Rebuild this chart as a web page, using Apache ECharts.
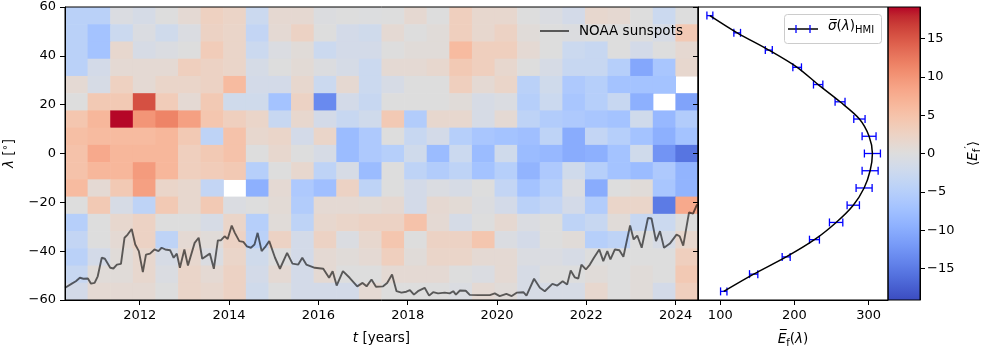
<!DOCTYPE html>
<html>
<head>
<meta charset="utf-8">
<script src="https://cdn.jsdelivr.net/npm/echarts@6/dist/echarts.min.js"></script>
<style>html,body{margin:0;padding:0;background:#fff}#c{width:1000px;height:350px}</style>
</head>
<body>
<div id="c"></div>
<script>
// ---------------- data ----------------
const timeStart = 2010.327;
const timeBinWidth = 0.5062;
const timeBinCount = 28;
const latMin = -60, latMax = 60, latBinCount = 17;

// fluctuation <E'_f>, rows from north (top) to south (bottom), 28 time bins each; null = no data
const fluctRows = [
 [-4.5,-4.5,-0.5,-1.2,0,1,2.8,2.2,-2.5,1.2,1.2,-0.3,0,-0.2, 0,1.2,0,3,1.5,1.5,0,-0.5,-1.5,1.5,1.2,0,-2.5,0],
 [-4.5,-7,-2.5,-0.5,-2,-0.5,2.5,2,-3.5,1,2.5,0,-1.5,-2, 1,0,0.5,3,1.5,2.5,0.5,0,-0.3,0,0,0,-1,4],
 [-4.5,-7,1.5,-1,-0.5,0,3.5,2,-2.5,-0.5,0.5,-2.5,-1.5,-1.5, 0,0.5,0.5,6,3,3,1,0,-2.5,-3,0,-1.5,0,1.2],
 [-4.5,-1.5,1,1,1,3,2.5,2,-1.2,0,0.8,-0.3,-1.2,-2.5, 1,1,1.5,4,3,1.5,0,-1,-3,-3,-5,-10.5,-6.5,1.5],
 [1,-1,2.8,1,2,2,2.5,6,-1.5,-1.5,1.5,-2.5,1.2,-2.5, -1,0,0,3,1,2,-4.5,-2,-6,-5,-7,-7,-7,null],
 [0,4,4,15.5,3.5,1,4,-2,-2,-7,2.5,-13.5,-1.5,-3, 0,0,0,0.5,-1,-0.5,-5,-2.5,-6.5,-5,-3,-9.5,null,-11],
 [4.5,6.5,19,10,11.5,9,4.5,3,2,-3,1.5,-1.5,-3,-2, 4,-5.5,1.5,1.5,-1,1,-4,-5.5,-6,-6.5,-7,-2,-8.5,-5.5],
 [5.5,6,6,6,6.5,4,-4,5,1.5,2,-1.5,2,-8,-6, 0,-3,-1.5,-5,-6.5,-7,-7.5,-4,-10,-3.5,-5,-7,-9.5,-7],
 [5,8,6.5,6.5,6.5,3,4,5,0,1.5,0,-1,-8,-6, -5,-2,-8,-2.5,-8,-2,-8,-8.5,-10,-9.5,-7,-2,-12.5,-15.5],
 [5,6.5,6.5,9.5,6.5,3,3.5,4,-5,0,1.5,-4,-1,-8, 0,-4,-5.5,-4,-7,-5,-9,-6,-2,-5,-7,-8,-6,-9],
 [6,1,4,9,2,1.5,-3.5,null,-9.5,1,-6,-7.5,2.5,-4, 0,-1.5,-0.5,-1,0,-3.5,-7,-5,-0.5,-10,0,0.5,-6.5,-9],
 [0,4,-1,-4,4,1.5,4,-0.5,0,0.8,-5.5,1,1,0.8, 1.2,-1.5,1.2,0.8,-0.3,-1.5,-4.5,-3.5,-1.5,-5.5,2,2,-15,8],
 [-5,0,1.5,2.5,0,0,-1,2,-5,0.5,-4,1.5,2,2.5, 2.5,5,1,-1.2,0,1.2,-0.5,0,-4,-3,0.5,-3,-2.5,0],
 [-3.5,0,1,2.5,-4,1,0.5,2.5,-4.5,2.5,-1.5,2.5,-0.5,1.5, 4.5,0,2.5,2.5,4.5,-0.5,-1.5,0,0.5,-5,-4,0,-1,1.5],
 [-4.5,-1.5,0.5,1.5,-1,1.5,-0.5,2,-2,0,-1.5,1,0.5,1, 3,0.5,2,2,1,1,-0.5,-0.5,-1,0,0,0,0,3],
 [-3,0.5,0.5,1.5,-0.5,2,1,2.5,-1.5,1,-1.5,1,0,0, 1,1,1,0,-0.5,1,-1,0,0,0.5,0,0.5,0,4],
 [-1.5,1,1,1,0,2,1.5,2.5,-2,0,-1.5,-1.5,-1.5,1, 0,0,0,-0.5,1,0.5,-1,-1,-1,1.5,0,0.5,-1.5,3]
];

// NOAA sunspot curve, drawn in latitude units: [year, plotted value]
const sunspotCurve = [
 [2010.33,-55.0],[2010.48,-53.3],[2010.57,-52.3],[2010.66,-50.9],[2010.74,-51.3],[2010.84,-51.2],[2010.91,-53.3],[2010.99,-53.0],
 [2011.06,-50.3],[2011.15,-42.7],[2011.22,-43.1],[2011.34,-46.8],[2011.41,-47.1],[2011.49,-45.5],[2011.58,-45.2],[2011.66,-34.5],
 [2011.73,-33.2],[2011.82,-30.9],[2011.90,-37.3],[2011.98,-40.0],[2012.07,-48.6],[2012.14,-41.4],[2012.23,-41.0],[2012.33,-39.3],
 [2012.42,-40.0],[2012.49,-38.6],[2012.57,-39.3],[2012.68,-39.6],[2012.76,-42.7],[2012.83,-41.0],[2012.90,-46.8],[2013.00,-39.3],
 [2013.08,-45.9],[2013.23,-36.6],[2013.32,-34.5],[2013.40,-43.1],[2013.57,-41.0],[2013.66,-47.2],[2013.75,-35.6],[2013.82,-35.5],
 [2013.90,-33.9],[2013.97,-35.0],[2014.06,-29.5],[2014.13,-32.5],[2014.23,-35.9],[2014.32,-36.2],[2014.40,-38.0],[2014.49,-38.6],
 [2014.57,-37.3],[2014.64,-32.5],[2014.73,-40.0],[2014.82,-38.0],[2014.90,-35.9],[2015.03,-42.7],[2015.14,-47.2],[2015.30,-40.7],
 [2015.42,-45.1],[2015.55,-45.5],[2015.64,-42.7],[2015.73,-45.5],[2015.92,-46.8],[2016.11,-47.2],[2016.24,-50.9],[2016.32,-48.2],
 [2016.41,-54.1],[2016.55,-48.2],[2016.70,-50.9],[2016.87,-54.4],[2016.99,-53.0],[2017.08,-54.4],[2017.19,-51.6],[2017.29,-54.6],
 [2017.45,-54.4],[2017.54,-53.0],[2017.65,-49.6],[2017.75,-56.4],[2017.86,-57.0],[2017.97,-56.6],[2018.05,-56.0],[2018.14,-57.8],
 [2018.23,-56.4],[2018.38,-55.0],[2018.48,-58.2],[2018.57,-56.8],[2018.68,-57.3],[2018.83,-57.0],[2018.94,-57.3],[2019.02,-56.4],
 [2019.08,-57.8],[2019.17,-56.1],[2019.30,-56.2],[2019.39,-57.9],[2019.58,-58.0],[2019.84,-58.0],[2019.95,-57.3],[2020.06,-58.4],
 [2020.21,-57.5],[2020.33,-58.4],[2020.44,-57.0],[2020.59,-56.8],[2020.66,-58.2],[2020.83,-51.3],[2020.96,-55.0],[2021.07,-56.4],
 [2021.24,-53.4],[2021.35,-54.1],[2021.47,-52.3],[2021.57,-53.7],[2021.65,-47.9],[2021.74,-50.7],[2021.82,-51.2],[2021.89,-45.5],
 [2021.99,-47.5],[2022.08,-45.5],[2022.17,-42.7],[2022.29,-39.3],[2022.38,-44.1],[2022.47,-40.0],[2022.54,-43.4],[2022.64,-39.3],
 [2022.74,-39.6],[2022.83,-42.3],[2022.98,-29.5],[2023.06,-35.2],[2023.14,-33.6],[2023.24,-38.6],[2023.38,-26.4],[2023.46,-26.6],
 [2023.56,-35.9],[2023.65,-31.8],[2023.74,-38.6],[2023.87,-36.9],[2024.02,-33.2],[2024.09,-33.9],[2024.17,-37.7],[2024.30,-24.1],
 [2024.39,-24.6],[2024.48,-20.8]
];

// latitude profile (one value per latitude bin, north to south)
const profileMean = [86,122.8,165.4,203.6,231.9,261.4,287.5,300.5,305,301.9,293.8,279.2,256.1,226.9,188.8,145,104.7];
const profileErr  = [4,4.5,4.7,5.8,6.3,6.7,7.6,9.4,10.8,10.8,10.8,8.3,9,6.7,5.4,5.6,4.3];

const yearTicks = [2012,2014,2016,2018,2020,2022,2024];
const latTicks = [-60,-40,-20,0,20,40,60];
const profileTicks = [100,200,300];
const cbarTicks = [-15,-10,-5,0,5,10,15];
const cbarLimit = 19.1;
const profileMin = 70, profileMax = 326;

// ---------------- styling helpers ----------------
const FONT = 'DejaVu Sans';
const COOLWARM = [[59,76,192],[68,90,204],[77,104,215],[87,117,225],[98,130,234],[108,142,241],[119,154,247],[130,165,251],
 [141,176,254],[152,185,255],[163,194,255],[174,201,253],[184,208,249],[194,213,244],[204,217,238],[213,219,230],[221,221,221],
 [229,216,209],[236,211,197],[241,204,184],[245,196,172],[247,187,160],[247,177,148],[247,166,137],[244,154,124],[241,141,111],
 [236,127,99],[229,112,89],[222,96,77],[213,80,66],[203,62,56],[192,40,47],[180,4,38]];
function cmap(v){
  let t = (v + cbarLimit) / (2*cbarLimit);
  t = Math.max(0, Math.min(1, t));
  const f = t*32, i = Math.min(31, Math.floor(f)), r = f - i;
  const a = COOLWARM[i], b = COOLWARM[i+1];
  return 'rgb(' + [0,1,2].map(k => Math.round(a[k] + (b[k]-a[k])*r)).join(',') + ')';
}
const minus = v => (v < 0 ? '\u2212' + (-v) : String(v));

const timeEnd = timeStart + timeBinCount*timeBinWidth;
const latStep = (latMax - latMin)/latBinCount;
const cells = [];
fluctRows.forEach((row, r) => {
  const yHi = latMax - r*latStep, yLo = yHi - latStep;
  row.forEach((v, c) => {
    if (v === null) return;
    const x0 = timeStart + c*timeBinWidth;
    cells.push([x0, x0 + timeBinWidth, yLo, yHi, v]);
  });
});
const latCenters = profileMean.map((_, r) => latMax - (r + 0.5)*latStep);
const profileLine = profileMean.map((m, r) => [m, latCenters[r]]);
const profileBars = profileMean.map((m, r) => [latCenters[r], m, profileErr[r]]);

const gradStops = COOLWARM.map((c, i) => ({offset: 1 - i/32, color: 'rgb(' + c.join(',') + ')'})).reverse();

const lbl = {color:'#000', fontSize:13, fontFamily:FONT};
const tick = {show:true, length:5, lineStyle:{color:'#000', width:1}};
const aline = {show:true, onZero:false, lineStyle:{color:'#000', width:1}};
const nameStyle = {color:'#000', fontSize:13.5, fontFamily:FONT,
  rich:{
    i:{fontStyle:'italic', fontSize:13.5, fontFamily:FONT, color:'#000'},
    n:{fontSize:13.5, fontFamily:FONT, color:'#000'},
    s:{fontSize:10, fontFamily:FONT, color:'#000', padding:[8,0,0,0]},
    p:{fontSize:10, fontFamily:FONT, color:'#000', padding:[0,0,8,0]}
  }};
const gridBase = {top:7, height:293, show:true, borderColor:'#000', borderWidth:1, backgroundColor:'transparent', z:10,
  containLabel:false, outerBoundsMode:'none'};

const chart = echarts.init(document.getElementById('c'), null, {renderer:'canvas', width:1000, height:350});
const option = {
  animation:false,
  backgroundColor:'#fff',
  grid:[
    Object.assign({left:65, width:633}, gridBase),
    Object.assign({left:698, width:190}, gridBase),
    Object.assign({left:888, width:32}, gridBase)
  ],
  xAxis:[
    {gridIndex:0, type:'value', min:timeStart, max:timeEnd, z:10, axisLine:aline,
     axisTick:Object.assign({customValues:yearTicks}, tick),
     axisLabel:Object.assign({customValues:yearTicks, margin:9, formatter:v=>String(v)}, lbl),
     splitLine:{show:false},
     name:'{i|t} [years]', nameLocation:'middle', nameGap:31, nameTextStyle:nameStyle},
    {gridIndex:1, type:'value', min:profileMin, max:profileMax, z:10, axisLine:aline,
     axisTick:Object.assign({customValues:profileTicks}, tick),
     axisLabel:Object.assign({customValues:profileTicks, margin:9, formatter:v=>String(v)}, lbl),
     splitLine:{show:false},
     name:'{i|E\u0305}{s|f}{n|(}{i|λ}{n|)}', nameLocation:'middle', nameGap:30, nameTextStyle:nameStyle},
    {gridIndex:2, type:'value', min:0, max:1, show:false}
  ],
  yAxis:[
    {gridIndex:0, type:'value', min:latMin, max:latMax, interval:20, z:10, axisLine:aline,
     axisTick:Object.assign({customValues:latTicks}, tick),
     axisLabel:Object.assign({customValues:latTicks, margin:9, formatter:minus}, lbl),
     splitLine:{show:false},
     name:'{i|λ} [{p|∘}]', nameLocation:'middle', nameGap:47, nameRotate:90, nameTextStyle:nameStyle},
    {gridIndex:1, type:'value', min:latMin, max:latMax, position:'left', z:12, axisLine:aline,
     axisTick:Object.assign({customValues:latTicks}, tick),
     axisLabel:{show:false}, splitLine:{show:false}},
    {gridIndex:2, type:'value', min:-cbarLimit, max:cbarLimit, position:'right', z:10, axisLine:aline,
     axisTick:Object.assign({customValues:cbarTicks}, tick),
     axisLabel:Object.assign({customValues:cbarTicks, margin:7, formatter:minus}, lbl),
     splitLine:{show:false},
     name:'{n|⟨}{i|E}{s|f}{p|′}{n|⟩}', nameLocation:'middle', nameGap:44, nameRotate:90, nameTextStyle:nameStyle}
  ],
  legend:{
    data:[{name:'NOAA sunspots', icon:'rect'}], left:535, top:19, itemWidth:29, itemHeight:2,
    selectedMode:false, textStyle:{fontSize:13.5, color:'#000', fontFamily:FONT, padding:[0,0,0,5]}
  },
  series:[
    {type:'custom', name:'fluct', xAxisIndex:0, yAxisIndex:0, clip:true, silent:true,
     encode:{x:[0,1], y:[2,3]}, data:cells, z:1,
     renderItem(params, api){
       const p0 = api.coord([api.value(0), api.value(3)]);
       const p1 = api.coord([api.value(1), api.value(2)]);
       return {type:'rect', shape:{x:p0[0], y:p0[1], width:p1[0]-p0[0]+0.6, height:p1[1]-p0[1]+0.6},
               style:{fill:cmap(api.value(4))}};
     }},
    {type:'line', name:'NOAA sunspots', xAxisIndex:0, yAxisIndex:0, data:sunspotCurve, showSymbol:false, symbol:'none',
     lineStyle:{color:'rgba(0,0,0,0.6)', width:1.9}, itemStyle:{color:'rgba(0,0,0,0.6)'}, z:3, silent:true},
    {type:'custom', name:'errbars', xAxisIndex:1, yAxisIndex:1, encode:{x:1, y:0}, data:profileBars, z:2, silent:true,
     renderItem(params, api){
       const lat = api.value(0), m = api.value(1), e = api.value(2);
       const a = api.coord([m-e, lat]), b = api.coord([m+e, lat]);
       const cap = 4, st = {stroke:'#0000ff', lineWidth:1.3};
       return {type:'group', children:[
         {type:'line', shape:{x1:a[0], y1:a[1], x2:b[0], y2:b[1]}, style:st},
         {type:'line', shape:{x1:a[0], y1:a[1]-cap, x2:a[0], y2:a[1]+cap}, style:st},
         {type:'line', shape:{x1:b[0], y1:b[1]-cap, x2:b[0], y2:b[1]+cap}, style:st}
       ]};
     }},
    {type:'line', name:'profile', xAxisIndex:1, yAxisIndex:1, data:profileLine, showSymbol:false, symbol:'none', smooth:0.3,
     lineStyle:{color:'#000', width:1.5}, z:3, silent:true},
    {type:'custom', name:'cbar', xAxisIndex:2, yAxisIndex:2, encode:{x:[0,2], y:[1,3]},
     data:[[0, -cbarLimit, 1, cbarLimit]], z:1, silent:true,
     renderItem(params, api){
       const p0 = api.coord([api.value(0), api.value(3)]);
       const p1 = api.coord([api.value(2), api.value(1)]);
       return {type:'rect', shape:{x:p0[0], y:p0[1], width:p1[0]-p0[0], height:p1[1]-p0[1]},
               style:{fill:new echarts.graphic.LinearGradient(0,0,0,1, gradStops)}};
     }}
  ],
  graphic:[
    {type:'rect', left:784, top:14, z:20, shape:{width:97, height:29, r:3},
     style:{fill:'rgba(255,255,255,0.8)', stroke:'#cccccc', lineWidth:1}},
    {type:'line', z:21, shape:{x1:788, y1:29, x2:818, y2:29}, style:{stroke:'#000', lineWidth:1.5}},
    {type:'line', z:21, shape:{x1:796, y1:25, x2:796, y2:33}, style:{stroke:'#0000ff', lineWidth:1.3}},
    {type:'line', z:21, shape:{x1:810, y1:25, x2:810, y2:33}, style:{stroke:'#0000ff', lineWidth:1.3}},
    {type:'text', z:21, left:828, top:19,
     style:{text:'{i|σ\u0305}{n|(}{i|λ}{n|)}{s|HMI}', fill:'#000', font:'13.5px "DejaVu Sans"',
            rich:{i:{fontStyle:'italic', fontSize:13.5, fontFamily:FONT, fill:'#000'},
                  n:{fontSize:13.5, fontFamily:FONT, fill:'#000'},
                  s:{fontSize:10, fontFamily:FONT, fill:'#000', padding:[8,0,0,0]}}}}
  ]
};
chart.setOption(option);
</script>
</body>
</html>
